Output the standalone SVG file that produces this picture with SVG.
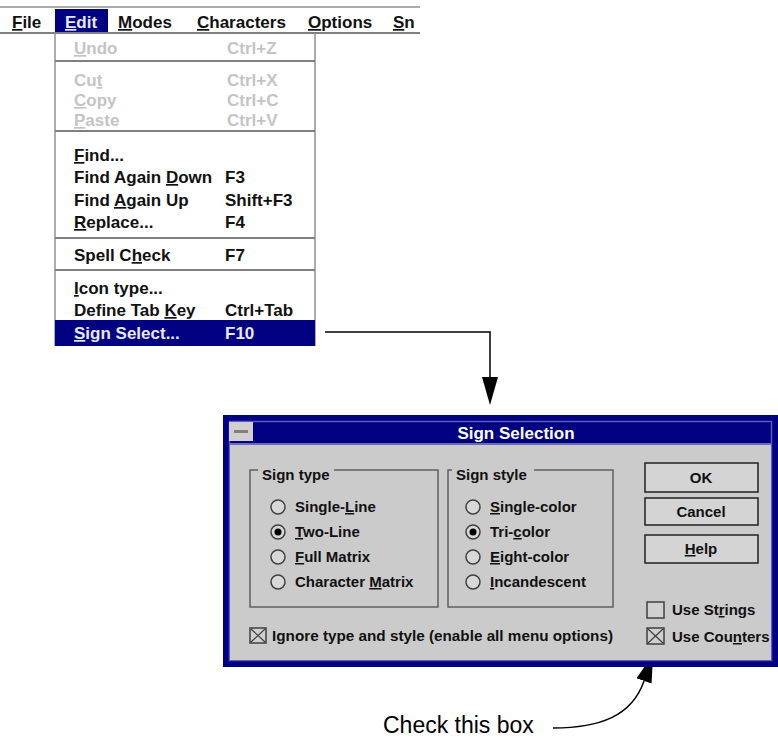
<svg xmlns="http://www.w3.org/2000/svg" width="778" height="738" viewBox="0 0 778 738">
<defs>
<style>
.m{font-family:"Liberation Sans",Arial,sans-serif;font-weight:bold;font-size:17px;fill:#111}
.dis{fill:#c4c4c4}
.inv{fill:#e8e8ff}
.d{font-family:"Liberation Sans",Arial,sans-serif;font-weight:bold;font-size:15px;fill:#111}
.u{text-decoration:underline}
.sep{stroke:#808080;stroke-width:2}
.edge{stroke:#909090;stroke-width:1.5}
.grp{fill:none;stroke:#606060;stroke-width:1.5}
.radio{fill:#d8d8d8;stroke:#404040;stroke-width:1.5}
.btn{fill:#d4d4d4;stroke:#202020;stroke-width:1.5}
.chk{fill:#d0d0d0;stroke:#404040;stroke-width:1.5}
.x{stroke:#404040;stroke-width:1.2}
.conn{fill:none;stroke:#000;stroke-width:1.5}
</style>
<marker id="ah" viewBox="0 0 28 16" refX="0" refY="8" markerWidth="28" markerHeight="16" markerUnits="userSpaceOnUse" orient="auto">
<path d="M0,0 L28,8 L0,16 z" fill="#000"/>
</marker>
</defs>
<rect width="778" height="738" fill="#fff"/>

<g id="menubar">
<line x1="0" y1="7" x2="420" y2="7" class="edge"/>
<line x1="0" y1="33" x2="420" y2="33" class="sep"/>
<rect x="55" y="9" width="53" height="23" fill="#000080"/>
<text class="m" x="12" y="28"><tspan class="u">F</tspan>ile</text>
<text class="m inv" x="65" y="28"><tspan class="u">E</tspan>dit</text>
<text class="m" x="118" y="28"><tspan class="u">M</tspan>odes</text>
<text class="m" x="197" y="28"><tspan class="u">C</tspan>haracters</text>
<text class="m" x="308" y="28"><tspan class="u">O</tspan>ptions</text>
<text class="m" x="393" y="28"><tspan class="u">S</tspan>n</text>
</g>

<g id="edit-menu">
<rect x="55" y="34" width="260" height="286" fill="#fff"/>
<line x1="55" y1="33" x2="55" y2="346" class="edge"/>
<line x1="315" y1="33" x2="315" y2="346" class="edge"/>
<text class="m dis" x="74" y="54"><tspan class="u">U</tspan>ndo</text>
<text class="m dis" x="227" y="54">Ctrl+Z</text>
<line x1="55" y1="61" x2="315" y2="61" class="sep"/>
<text class="m dis" x="74" y="86">Cu<tspan class="u">t</tspan></text>
<text class="m dis" x="227" y="86">Ctrl+X</text>
<text class="m dis" x="74" y="106"><tspan class="u">C</tspan>opy</text>
<text class="m dis" x="227" y="106">Ctrl+C</text>
<text class="m dis" x="74" y="126"><tspan class="u">P</tspan>aste</text>
<text class="m dis" x="227" y="126">Ctrl+V</text>
<line x1="55" y1="131" x2="315" y2="131" class="sep"/>
<text class="m" x="74" y="161"><tspan class="u">F</tspan>ind...</text>
<text class="m" x="74" y="183">Find Again <tspan class="u">D</tspan>own</text>
<text class="m" x="225" y="183">F3</text>
<text class="m" x="74" y="206">Find <tspan class="u">A</tspan>gain Up</text>
<text class="m" x="225" y="206">Shift+F3</text>
<text class="m" x="74" y="228"><tspan class="u">R</tspan>eplace...</text>
<text class="m" x="225" y="228">F4</text>
<line x1="55" y1="238" x2="315" y2="238" class="sep"/>
<text class="m" x="74" y="261">Spell C<tspan class="u">h</tspan>eck</text>
<text class="m" x="225" y="261">F7</text>
<line x1="55" y1="270" x2="315" y2="270" class="sep"/>
<text class="m" x="74" y="294"><tspan class="u">I</tspan>con type...</text>
<text class="m" x="74" y="316">Define Tab <tspan class="u">K</tspan>ey</text>
<text class="m" x="225" y="316">Ctrl+Tab</text>
<rect x="55" y="320" width="260" height="26" fill="#000080"/>
<text class="m inv" x="74" y="339"><tspan class="u">S</tspan>ign Select...</text>
<text class="m inv" x="225" y="339">F10</text>
</g>

<g id="connectors">
<polyline points="325,332 490,332 490,377" class="conn" marker-end="url(#ah)"/>
<path d="M553,728 C600,728 632,716 644,681" class="conn" marker-end="url(#ah)"/>
</g>

<g id="dialog">
<rect x="223" y="415" width="555" height="252" fill="#000080"/>
<rect x="229.5" y="421.5" width="542" height="239" fill="none" stroke="#5a5ac0" stroke-width="1.5"/>
<rect x="230" y="445" width="541" height="215" fill="#cbcbcb"/>
<line x1="230" y1="444" x2="771" y2="444" stroke="#9090c8" stroke-width="1.5"/>
<rect x="229" y="422" width="24" height="19" fill="#d0d0d0"/>
<rect x="234" y="430" width="14" height="3" fill="#808080"/>
<text class="m" x="516" y="439" text-anchor="middle" fill="#fff" style="fill:#fff">Sign Selection</text>

<g id="sign-type">
<rect x="250" y="470" width="188" height="137" class="grp"/>
<rect x="258" y="466" width="76" height="10" fill="#cbcbcb"/>
<text class="d" x="262" y="480">Sign type</text>
<circle cx="278" cy="507" r="7" class="radio"/>
<text class="d" x="295" y="512">Single-<tspan class="u">L</tspan>ine</text>
<circle cx="278" cy="532" r="7" class="radio"/>
<circle cx="278" cy="532" r="3.5" fill="#000"/>
<text class="d" x="295" y="537"><tspan class="u">T</tspan>wo-Line</text>
<circle cx="278" cy="557" r="7" class="radio"/>
<text class="d" x="295" y="562"><tspan class="u">F</tspan>ull Matrix</text>
<circle cx="278" cy="582" r="7" class="radio"/>
<text class="d" x="295" y="587">Character <tspan class="u">M</tspan>atrix</text>
</g>

<g id="sign-style">
<rect x="448" y="470" width="165" height="137" class="grp"/>
<rect x="452" y="466" width="82" height="10" fill="#cbcbcb"/>
<text class="d" x="456" y="480">Sign style</text>
<circle cx="473" cy="507" r="7" class="radio"/>
<text class="d" x="490" y="512"><tspan class="u">S</tspan>ingle-color</text>
<circle cx="473" cy="532" r="7" class="radio"/>
<circle cx="473" cy="532" r="3.5" fill="#000"/>
<text class="d" x="490" y="537">Tri-<tspan class="u">c</tspan>olor</text>
<circle cx="473" cy="557" r="7" class="radio"/>
<text class="d" x="490" y="562"><tspan class="u">E</tspan>ight-color</text>
<circle cx="473" cy="582" r="7" class="radio"/>
<text class="d" x="490" y="587"><tspan class="u">I</tspan>ncandescent</text>
</g>

<g id="btn-ok">
<rect x="645" y="463" width="113" height="29" class="btn" stroke-width="3"/>
<text class="d" x="701" y="483" text-anchor="middle">OK</text>
</g>
<g id="btn-cancel">
<rect x="645" y="498" width="113" height="27" class="btn"/>
<text class="d" x="701" y="517" text-anchor="middle">Cancel</text>
</g>
<g id="btn-help">
<rect x="645" y="535" width="113" height="28" class="btn"/>
<text class="d" x="701" y="554" text-anchor="middle"><tspan class="u">H</tspan>elp</text>
</g>

<g id="use-strings">
<rect x="647" y="602" width="17" height="16" class="chk"/>
<text class="d" x="672" y="615">Use St<tspan class="u">r</tspan>ings</text>
</g>
<g id="use-counters">
<rect x="647" y="628" width="17" height="16" class="chk"/>
<line x1="648" y1="629" x2="663" y2="643" class="x"/>
<line x1="663" y1="629" x2="648" y2="643" class="x"/>
<text class="d" x="672" y="642">Use Cou<tspan class="u">n</tspan>ters</text>
</g>
<g id="ignore">
<rect x="250" y="628" width="16" height="15" class="chk"/>
<line x1="251" y1="629" x2="265" y2="642" class="x"/>
<line x1="265" y1="629" x2="251" y2="642" class="x"/>
<text class="d" x="272" y="641" textLength="341" lengthAdjust="spacingAndGlyphs">I<tspan class="u">g</tspan>nore type and style (enable all menu options)</text>
</g>
</g>

<g id="note">
<text x="383" y="733" font-family="'Liberation Sans',Arial,sans-serif" font-size="23" fill="#000">Check this box</text>
</g>
</svg>
